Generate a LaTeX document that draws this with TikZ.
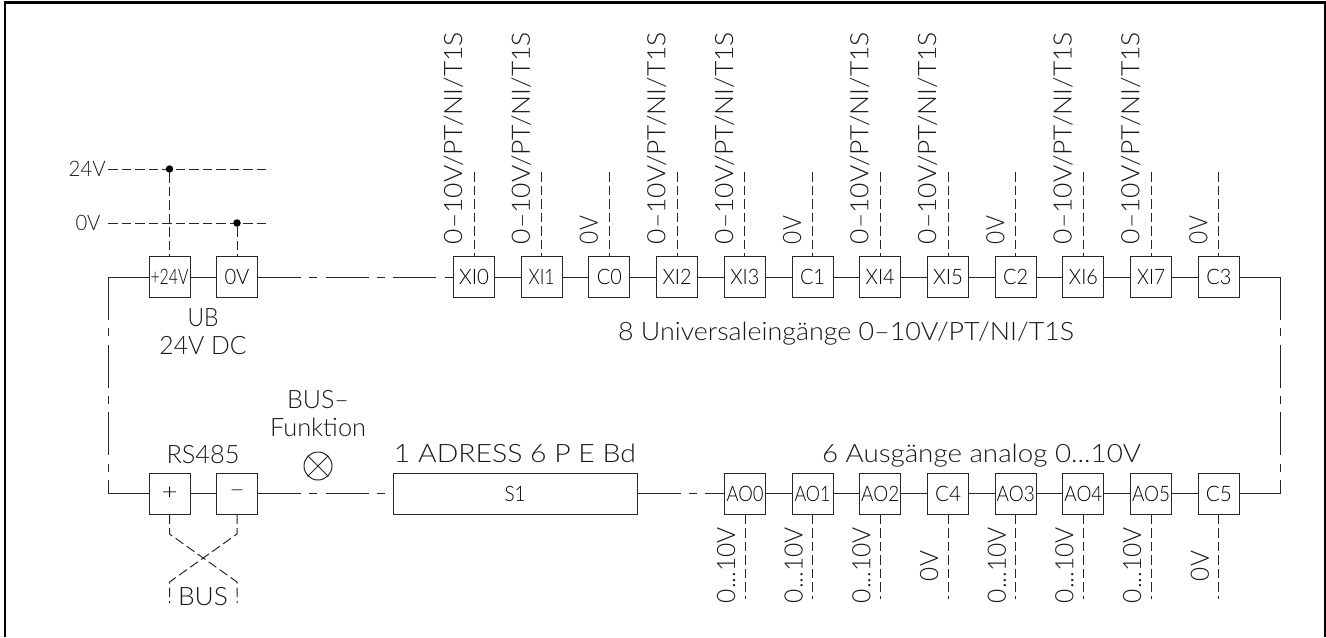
\documentclass[tikz,border=0pt]{standalone}
\usepackage{fontspec}
\usepackage{graphicx}
\setmainfont{Lato}[UprightFont=* Light]
\newdimen\pxu \pxu=0.75pt
\newcommand\fw[2]{\resizebox{#1\pxu}{\height}{#2}}
\tikzset{
  wire/.style={line width=0.75pt,draw=black!85},
  term/.style={wire,rectangle,minimum width=41\pxu,minimum height=41\pxu,inner sep=0pt,text depth=0pt,font=\fontsize{16}{18}\selectfont},
  lab/.style={inner sep=0pt,text depth=0pt,font=\fontsize{19}{21}\selectfont,text=black!90},
  smalllab/.style={lab,font=\fontsize{16}{18}\selectfont},
  sidelab/.style={lab,rotate=90},
  cline/.style={wire,dash pattern=on 43\pxu off 8.3\pxu on 8.1\pxu off 8.3\pxu},
  sig/.style={wire,dash pattern=on 9.5\pxu off 4\pxu},
  junc/.style={circle,fill=black,inner sep=0pt,minimum size=7.5\pxu}
}
\begin{document}
\begin{tikzpicture}[x=0.75pt,y=-0.75pt]
\useasboundingbox (0,0) rectangle (1326,637);
% open frame
\draw[line width=1.6pt,black] (5,637) -- (5,2.5) -- (1325,2.5) -- (1325,637);

% upper terminal row
\node[term] (p24) at (169.5,277) {\fw{38}{+24V}};
\node[term] (n0)  at (237,277)   {\fw{25}{0V}};
\node[term] (xi0) at (474,277)   {\fw{30}{XI0}};
\node[term] (xi1) at (541.7,277) {\fw{26}{XI1}};
\node[term] (c0)  at (609.4,277) {\fw{25}{C0}};
\node[term] (xi2) at (677.1,277) {\fw{29}{XI2}};
\node[term] (xi3) at (744.8,277) {\fw{29}{XI3}};
\node[term] (c1)  at (812.5,277) {\fw{25}{C1}};
\node[term] (xi4) at (880.2,277) {\fw{29}{XI4}};
\node[term] (xi5) at (948,277)   {\fw{30}{XI5}};
\node[term] (c2)  at (1015.7,277){\fw{25}{C2}};
\node[term] (xi6) at (1083.4,277){\fw{29}{XI6}};
\node[term] (xi7) at (1151.1,277){\fw{28}{XI7}};
\node[term] (c3)  at (1218.8,277){\fw{25}{C3}};

% lower terminal row
\node[term] (plus)  at (169.5,493.5) {\fw{16}{+}};
\node[term] (minus) at (237,493.5)   {\fw{16}{–}};
\node[term,minimum width=244\pxu] (s1) at (515,493.5) {\fw{21}{S1}};
\node[term] (ao0) at (745,493.5)    {\fw{37}{AO0}};
\node[term] (ao1) at (812.5,493.5)  {\fw{36}{AO1}};
\node[term] (ao2) at (880.2,493.5)  {\fw{38}{AO2}};
\node[term] (c4)  at (948,493.5)    {\fw{26}{C4}};
\node[term] (ao3) at (1015.7,493.5) {\fw{38}{AO3}};
\node[term] (ao4) at (1083.4,493.5) {\fw{38}{AO4}};
\node[term] (ao5) at (1151.1,493.5) {\fw{38}{AO5}};
\node[term] (c5)  at (1218.8,493.5) {\fw{26}{C5}};

% chains of terminals
\foreach \a/\b in {p24/n0,xi0/xi1,xi1/c0,c0/xi2,xi2/xi3,xi3/c1,c1/xi4,xi4/xi5,xi5/c2,c2/xi6,xi6/xi7,xi7/c3,
                   plus/minus,ao0/ao1,ao1/ao2,ao2/c4,c4/ao3,ao3/ao4,ao4/ao5,ao5/c5}
  \draw[wire] (\a.east) -- (\b.west);
\draw[cline] (n0.east) -- (xi0.west);
\draw[cline] (minus.east) -- (s1.west);
\draw[cline] (s1.east) -- (ao0.west);

% loops at the sides
\coordinate (tl) at (108,277);
\coordinate (bl) at (108,493.5);
\coordinate (tr) at (1280.5,277);
\coordinate (br) at (1280.5,493.5);
\draw[wire] (p24.west) -- (tl);
\draw[wire] (plus.west) -- (bl);
\draw[wire] (c3.east) -- (tr);
\draw[wire] (c5.east) -- (br);
\draw[cline,line cap=butt] (tl) -- (bl);
\draw[cline,line cap=butt] (tr) -- (br);

% supply lines
\coordinate (a24) at (108,169);
\coordinate (e24) at (270,169);
\coordinate (a0) at (108,223);
\coordinate (e0) at (270,223);
\draw[sig] (a24) -- (e24);
\draw[sig] (a0) -- (e0);
\node[junc] (d24) at (169.5,169) {};
\node[junc] (d0) at (237,223) {};
\draw[sig] (d24) -- (p24.north);
\draw[sig] (d0) -- (n0.north);
\node[smalllab,anchor=east] (l24) at (106,169) {\fw{37}{24V}};
\node[smalllab,anchor=center] (l0) at (88,223) {\fw{25}{0V}};

% upper signal stubs and their labels
\foreach \n/\x in {xi0/474,xi1/541.7,xi2/677.1,xi3/744.8,xi4/880.2,xi5/948,xi6/1083.4,xi7/1151.1}{
  \coordinate (t\n) at (\x,172);
  \draw[sig] (t\n) -- (\n.north);
  \node[sidelab] (l\n) at (\x-21,138) {\fw{212}{0–10V/PT/NI/T1S}};
}
\foreach \n/\x in {c0/609.4,c1/812.5,c2/1015.7,c3/1218.8}{
  \coordinate (t\n) at (\x,172);
  \draw[sig] (t\n) -- (\n.north);
  \node[sidelab] (l\n) at (\x-20.5,230) {\fw{28}{0V}};
}
% lower signal stubs and their labels
\foreach \n/\x in {ao0/745,ao1/812.5,ao2/880.2,ao3/1015.7,ao4/1083.4,ao5/1151.1}{
  \coordinate (t\n) at (\x,599);
  \draw[sig] (\n.south) -- (t\n);
  \node[sidelab] (l\n) at (\x-19,565) {\fw{76}{0...10V}};
}
\foreach \n/\x in {c4/948,c5/1218.8}{
  \coordinate (t\n) at (\x,599);
  \draw[sig] (\n.south) -- (t\n);
  \node[sidelab] (l\n) at (\x-19,566) {\fw{30}{0V}};
}

% bus crossing
\coordinate (k1) at (169.5,534);
\coordinate (k2) at (237,582);
\coordinate (k3) at (237,603);
\coordinate (k4) at (237,534);
\coordinate (k5) at (169.5,582);
\coordinate (k6) at (169.5,603);
\draw[sig] (plus.south) -- (k1) -- (k2) -- (k3);
\draw[sig] (minus.south) -- (k4) -- (k5) -- (k6);
\node[lab] (lbus) at (203,596) {\fw{50}{BUS}};

% lamp
\node[wire,circle,draw,minimum size=28\pxu,inner sep=0pt] (lamp) at (318,466) {};
\draw[wire] (lamp.45) -- (lamp.225);
\draw[wire] (lamp.135) -- (lamp.315);

% labels
\node[lab] (lub) at (203,318) {\fw{31}{UB}};
\node[lab] (ldc) at (203,345) {\fw{87}{24V DC}};
\node[lab] (lrs) at (203,454) {\fw{73}{RS485}};
\node[lab] (lb1) at (318,399) {\fw{62}{BUS–}};
\node[lab] (lb2) at (318,427) {\fw{96}{Funktion}};
\node[lab] (lad) at (515,453) {\fw{242}{1 ADRESS 6 P E Bd}};
\node[lab] (lui) at (846,331) {\fw{456}{8 Universaleingänge 0–10V/PT/NI/T1S}};
\node[lab] (lao) at (981.5,453) {\fw{319}{6 Ausgänge analog 0...10V}};
\end{tikzpicture}
\end{document}
